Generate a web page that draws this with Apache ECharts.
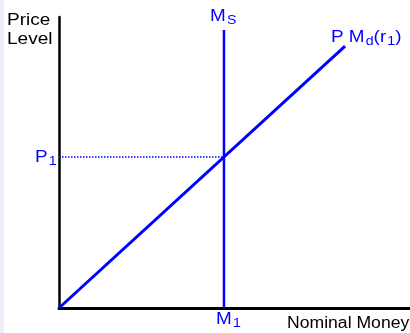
<!DOCTYPE html>
<html>
<head>
<meta charset="utf-8">
<script src="https://cdn.jsdelivr.net/npm/echarts@6/dist/echarts.min.js"></script>
<style>
  html, body { margin: 0; padding: 0; background: #fff; }
  #chart { width: 410px; height: 333px; }
</style>
</head>
<body>
<div id="chart"></div>
<script>
// money demand line P*Md(r1), from origin
var mdLine = [[0, 0], [81.5, 90]];
// money supply Ms (vertical at M1)
var msLine = [[47, 0], [47, 95.5]];
// equilibrium guides
var p1Guide = [[0, 51.9], [47, 51.9]];
var m1Guide = [[47, 0], [47, 51.9]];

var blue = "#0000ff";
var chart = echarts.init(document.getElementById("chart"));

var sub = { fontSize: 12, padding: [9, 0, 0, 1], fontFamily: "Liberation Sans" };
var big = { fontSize: 16, fontFamily: "Liberation Sans" };

function label(x, y, text, sx) {
  return {
    type: "text", x: x, y: y, scaleX: sx || 1.18,
    style: { text: text, rich: { b: big, s: sub }, fill: blue, verticalAlign: "top" }
  };
}

var option = {
  animation: false,
  backgroundColor: "#fff",
  grid: { left: 59, right: 0, top: 17, bottom: 25 },
  xAxis: {
    type: "value", min: 0, max: 100,
    axisLine: { lineStyle: { color: "#000", width: 3 } },
    axisTick: { show: false }, axisLabel: { show: false }, splitLine: { show: false }
  },
  yAxis: {
    type: "value", min: 0, max: 100,
    axisLine: { show: true, lineStyle: { color: "#000", width: 2.5 } },
    axisTick: { show: false }, axisLabel: { show: false }, splitLine: { show: false }
  },
  graphic: [
    { type: "rect", left: 0, top: 0, shape: { width: 4, height: 333 }, style: { fill: "#ececf6" } },
    { type: "text", x: 7, y: 11, scaleX: 1.12, style: { text: "Price\nLevel", fill: "#000", font: "17px Liberation Sans", lineHeight: 19, verticalAlign: "top" } },
    { type: "text", x: 287, y: 316, scaleX: 1.1, style: { text: "Nominal Money", fill: "#000", font: "16px Liberation Sans", verticalAlign: "top" } },
    label(210, 6, "{b|M}{s|S}"),
    label(331, 27, "{b|P M}{s|d}{b|(r}{s|1}{b|)}"),
    label(35, 147, "{b|P}{s|1}"),
    label(216, 309, "{b|M}{s|1}")
  ],
  series: [
    { type: "line", data: p1Guide, symbol: "none", lineStyle: { color: blue, width: 1.5, type: "dotted" } },
    { type: "line", data: m1Guide, symbol: "none", lineStyle: { color: blue, width: 1.5, type: "dotted" } },
    { type: "line", data: msLine, symbol: "none", lineStyle: { color: blue, width: 2.5 } },
    { type: "line", data: mdLine, symbol: "none", lineStyle: { color: blue, width: 3 } }
  ]
};

chart.setOption(option);
</script>
</body>
</html>
